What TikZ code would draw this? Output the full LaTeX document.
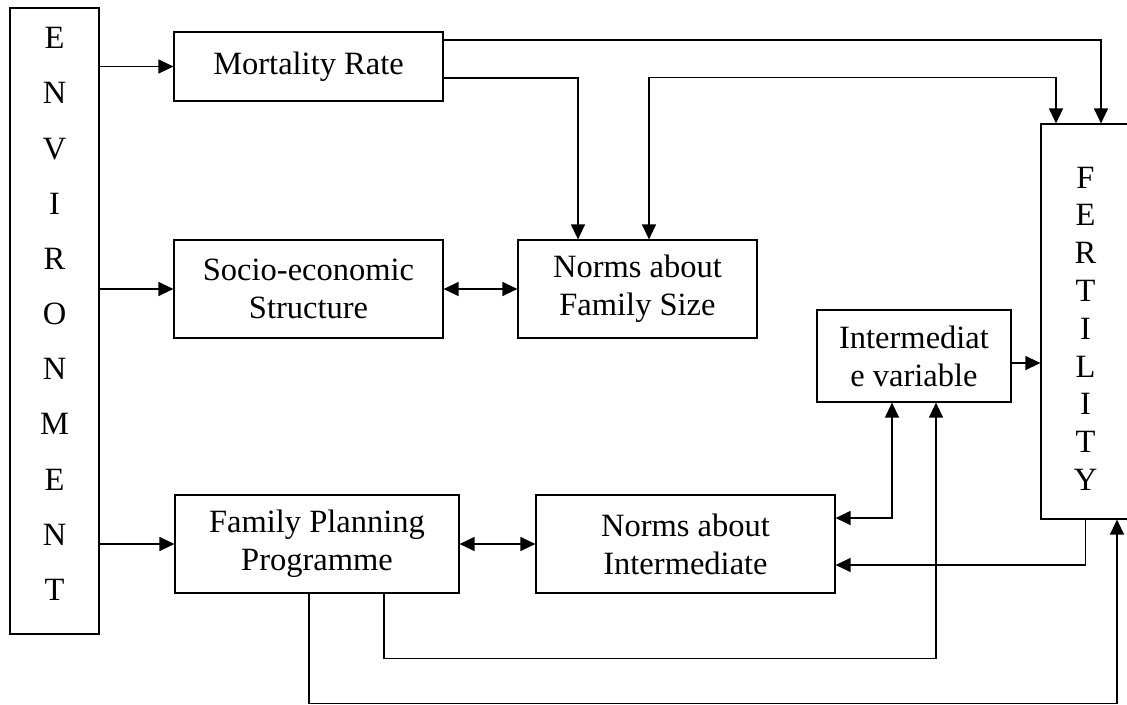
\documentclass[tikz,border=0pt]{standalone}
\usepackage{fontspec}
\setmainfont{Liberation Serif}
\usetikzlibrary{arrows.meta}
\tikzset{
  box/.style={draw, line width=0.7pt, inner sep=0pt, align=center, font=\fontsize{18.5}{21.5}\selectfont},
  arr/.style={line width=0.7pt, -{Triangle[length=0.3cm,width=0.28cm]}},
  darr/.style={line width=0.7pt, {Triangle[length=0.3cm,width=0.28cm]}-{Triangle[length=0.3cm,width=0.28cm]}},
}
\begin{document}
\begin{tikzpicture}[x=0.02cm,y=-0.02cm]
\path[use as bounding box, fill=white] (0,0) rectangle (1127,704);
% boxes
\node[box, minimum width=1.78cm, minimum height=12.52cm, font=\fontsize{18.5}{31.4}\selectfont] (env) at (54.5,321) {E\\N\\V\\I\\R\\O\\N\\M\\E\\N\\T\rule[-0.28cm]{0pt}{0.28cm}};
\node[box, minimum width=5.38cm, minimum height=1.38cm] (mort) at (308.5,66.5) {Mortality Rate};
\node[box, minimum width=5.38cm, minimum height=1.96cm] (socio) at (308.5,289) {Socio-economic\\Structure};
\node[box, minimum width=4.78cm, minimum height=1.96cm] (nfs) at (637.5,289) {Norms about\\Family Size};
\node[box, minimum width=3.88cm, minimum height=1.84cm] (ivar) at (914,356) {Intermediat\\e variable};
\node[box, minimum width=5.68cm, minimum height=1.96cm] (fpp) at (317,544) {Family Planning\\Programme};
\node[box, minimum width=5.98cm, minimum height=1.96cm] (nint) at (685.5,544) {Norms about\\Intermediate};
\node[box, minimum width=1.78cm, minimum height=7.9cm] (fert) at (1085.5,321.5) {\rule{0pt}{0.71cm}F\\E\\R\\T\\I\\L\\I\\T\\Y};

% connectors
\draw[arr] (env.east |- mort.west) -- (mort.west);
\draw[arr] (env.east |- socio.west) -- (socio.west);
\draw[arr] (env.east |- fpp.west) -- (fpp.west);
\draw[arr] ([yshift=.53cm]mort.east) -| ([xshift=.31cm]fert.north);
\draw[arr] ([yshift=-.23cm]mort.east) -| ([xshift=-1.19cm]nfs.north);
\draw[darr] ([xshift=.23cm]nfs.north) -- ++(0,-162) -| ([xshift=-.59cm]fert.north);
\draw[darr] (socio.east) -- (nfs.west);
\coordinate (ivo) at ([yshift=-.14cm]ivar.east);
\draw[arr] (ivo) -- (ivo -| fert.west);
\draw[darr] ([xshift=-.44cm]ivar.south) |- ([yshift=.52cm]nint.east);
\draw[arr] (fert.south) |- ([yshift=-.42cm]nint.east);
\draw[darr] (fpp.east) -- (nint.west);
\draw[arr] ([xshift=1.34cm]fpp.south) -- ++(0,65) -| ([xshift=.44cm]ivar.south);
\draw[arr] ([xshift=-.16cm]fpp.south) -- ++(0,110) -| ([xshift=.63cm]fert.south);
\end{tikzpicture}
\end{document}
